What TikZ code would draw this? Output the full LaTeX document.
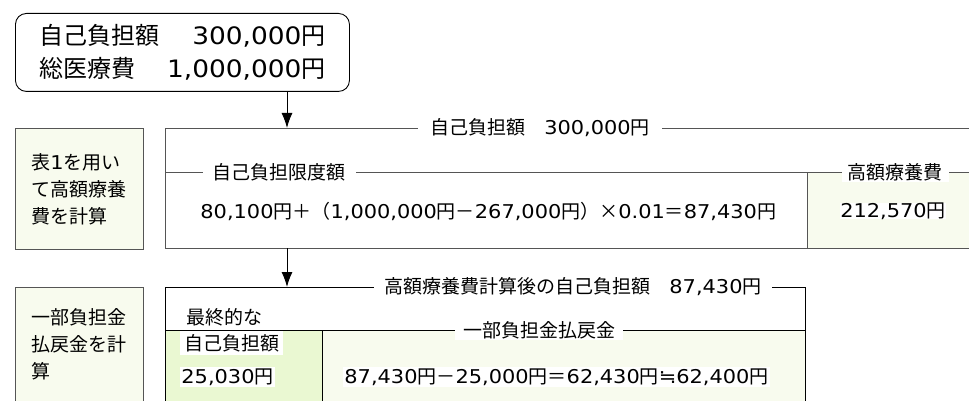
\documentclass[tikz,border=0pt]{standalone}
\usepackage{fontspec}
\usetikzlibrary{arrows.meta}
\setmainfont{Noto Sans CJK JP}
\newfontfamily\numfont[FakeStretch=1.1]{DejaVu Sans}
\newcommand{\nm}[1]{{\numfont #1}}
\definecolor{palegreen}{HTML}{F8FBEE}
\definecolor{midgreen}{HTML}{EAF8D2}
\definecolor{boxline}{HTML}{555555}
\begin{document}
\begin{tikzpicture}[x=1pt,y=-1pt,line width=0.9pt,
	txt/.style={inner sep=0pt,font=\fontsize{19}{21}\selectfont},
	lbl/.style={txt,fill=white,inner xsep=3pt,inner ysep=1.5pt},
	steplabel/.style={anchor=north west,align=left,inner sep=0pt,font=\fontsize{19}{27}\selectfont},
	flow/.style={-{Latex[length=15pt,width=11pt]},line width=1pt}]
	\useasboundingbox (0,0) rectangle (969,401);
	\begin{scope}
	\clip (0,0) rectangle (969,401);
	% start box
	\node[draw,rounded corners=11pt,text width=286pt,minimum height=78pt,anchor=north west,align=left,inner xsep=24pt,inner ysep=0pt,font=\fontsize{24}{33}\selectfont] (total) at (15,13) {自己負担額\hfill\nm{300,000}円\\総医療費\hfill\nm{1,000,000}円};
	% step 1
	\draw[boxline,fill=palegreen] (15,128) rectangle (143,249);
	\node[steplabel] (note1) at (31,153) {表\nm{1}を用い\\て高額療養\\費を計算};
	\fill[palegreen] (807,172) rectangle (969,248);
	\draw[boxline] (969,128) -- (165,128) -- (165,248) -- (969,248);
	\draw[boxline] (165,172) -- (969,172);
	\draw[boxline] (807,172) -- (807,248);
	\node[lbl,inner xsep=12pt] (own1) at (540,128) {自己負担額\hspace{1em}\nm{300,000}円};
	\node[lbl,inner xsep=10pt] (limit) at (279,172) {自己負担限度額};
	\node[lbl,inner xsep=6pt] (hicost) at (895,172) {高額療養費};
	\node[txt,anchor=west] (calc1) at (200,211) {\nm{80,100}円＋（\nm{1,000,000}円－\nm{267,000}円）×\nm{0.01}＝\nm{87,430}円};
	\node[txt,fill=white] (refund1) at (893,211) {\nm{212,570}円};
	% step 2
	\draw[boxline,fill=palegreen] (15,287) rectangle (143,410);
	\node[steplabel] (note2) at (31,308) {一部負担金\\払戻金を計\\算};
	\fill[midgreen] (165,330) rectangle (322,410);
	\fill[palegreen] (322,330) rectangle (805,410);
	\draw (165,410) -- (165,287) -- (805,287) -- (805,410);
	\draw (165,330) -- (805,330);
	\draw (322,330) -- (322,410);
	\node[lbl,inner xsep=10pt] (own2) at (573,287) {高額療養費計算後の自己負担額\hspace{1em}\nm{87,430}円};
	\node[lbl,inner xsep=8pt] (partial) at (539,330) {一部負担金払戻金};
	\node[txt,anchor=west] (final) at (186,317) {最終的な};
	\node[lbl,anchor=west,inner xsep=4pt,inner ysep=3pt] (final2) at (180,343) {自己負担額};
	\node[lbl,anchor=west,inner xsep=1pt] (paid) at (180,377) {\nm{25,030}円};
	\node[lbl,anchor=west,inner xsep=1pt] (calc2) at (343,377) {\nm{87,430}円－\nm{25,000}円＝\nm{62,430}円\nm{≒}\nm{62,400}円};
	\end{scope}
	% connectors
	\draw[flow] (total.south -| 287,0) -- (287,128);
	\draw[flow] (287,248) -- (287,287);
\end{tikzpicture}
\end{document}
